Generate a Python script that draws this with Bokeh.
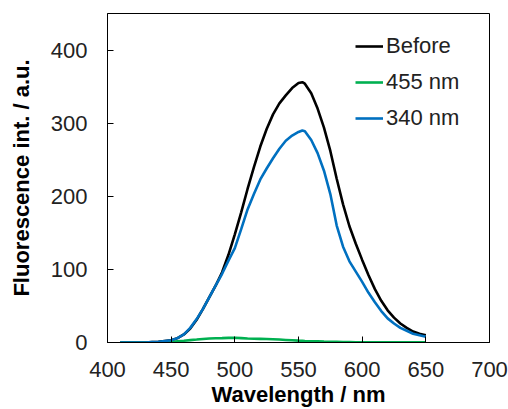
from bokeh.plotting import figure
from bokeh.models import Range1d, FixedTicker, Legend, LegendItem
from bokeh.embed import file_html
from bokeh.resources import INLINE

wavelength = [410, 415, 420, 425, 430, 435, 440, 445, 450, 455, 460, 465, 470, 475, 480, 485, 490, 495, 500,
              505, 510, 515, 520, 525, 530, 535, 540, 545, 550, 553, 555, 560, 565, 570, 575, 580, 585, 590, 595,
              600, 605, 610, 615, 620, 625, 630, 635, 640, 645, 650]
before = [0, 0, 0, 0, 0, 0.5, 1, 2, 3, 6, 11, 19, 31, 46, 62, 78, 96, 120, 148,
          178, 210, 240, 268, 292, 312, 327, 338, 348, 355, 356, 354, 341, 320, 294, 262, 224, 189, 159, 135,
          113, 92, 73, 57, 44, 34, 26, 20, 15, 12, 10]
nm455 = [0, 0, 0, 0, 0, 0.1, 0.3, 0.6, 1, 1.8, 2.5, 3.3, 4, 4.8, 5.5, 5.8, 6, 6.3, 6.5,
         6, 5.5, 5.2, 5, 4.8, 4.5, 4, 3.5, 3, 2.5, 2.3, 2.1, 1.8, 1.5, 1.2, 1, 0.8, 0.6, 0.5, 0.4,
         0.3, 0.25, 0.2, 0.2, 0.2, 0.2, 0.2, 0.2, 0.2, 0.2, 0.2]
nm340 = [0, 0, 0, 0, 0, 0.5, 1, 2, 3, 6, 11, 20, 32, 46, 62, 78, 94, 112, 129,
         155, 182, 203, 223, 238, 252, 265, 276, 283, 288, 290, 289, 277, 259, 235, 203, 160, 131, 111, 97,
         83, 68, 55, 43, 33, 26, 20, 16, 12, 10, 8]
x_ticks = [400, 450, 500, 550, 600, 650, 700]
y_ticks = [0, 100, 200, 300, 400]
series_names = ["Before", "455 nm", "340 nm"]
colors = ["#000000", "#00B050", "#0070C0"]

FONT = "Liberation Sans"

p = figure(width=508, height=409, output_backend="svg", toolbar_location=None,
           x_range=Range1d(400, 700), y_range=Range1d(0, 450),
           min_border_left=107, min_border_right=19, min_border_top=13, min_border_bottom=67)
p.xgrid.visible = False
p.ygrid.visible = False
p.outline_line_color = "#000000"
p.outline_line_width = 1
p.outline_line_alpha = 1

for ax, ticks in ((p.xaxis[0], x_ticks), (p.yaxis[0], y_ticks)):
    ax.ticker = FixedTicker(ticks=ticks)
    ax.major_tick_in = 6
    ax.major_tick_out = 0
    ax.minor_tick_in = 0
    ax.minor_tick_out = 0
    ax.axis_line_color = "#000000"
    ax.major_tick_line_color = "#000000"
    ax.major_label_text_font = FONT
    ax.major_label_text_font_size = "22px"
    ax.major_label_text_color = "#222222"
    ax.axis_label_text_font = FONT
    ax.axis_label_text_font_size = "22px"
    ax.axis_label_text_font_style = "bold"
    ax.axis_label_text_color = "#000000"

p.xaxis.axis_label = "Wavelength / nm"
p.yaxis.axis_label = "Fluorescence int. / a.u."
p.xaxis.major_label_standoff = 19
p.yaxis.major_label_standoff = 20
p.xaxis.axis_label_standoff = 2
p.yaxis.axis_label_standoff = 14

renderers = []
for ys, c in zip([before, nm455, nm340], colors):
    r = p.line(wavelength, ys, line_color=c, line_width=2.6)
    renderers.append(r)

legend = Legend(items=[LegendItem(label=n, renderers=[r]) for n, r in zip(series_names, renderers)],
                location=(248, 211), orientation="vertical")
legend.border_line_color = None
legend.background_fill_alpha = 0
legend.padding = 0
legend.margin = 0
legend.glyph_width = 28
legend.glyph_height = 26
legend.label_height = 26
legend.spacing = 10
legend.label_standoff = 3
legend.label_text_font = FONT
legend.label_text_font_size = "22px"
legend.label_text_color = "#222222"
p.add_layout(legend)

open("out.html", "w").write(file_html(p, INLINE))
